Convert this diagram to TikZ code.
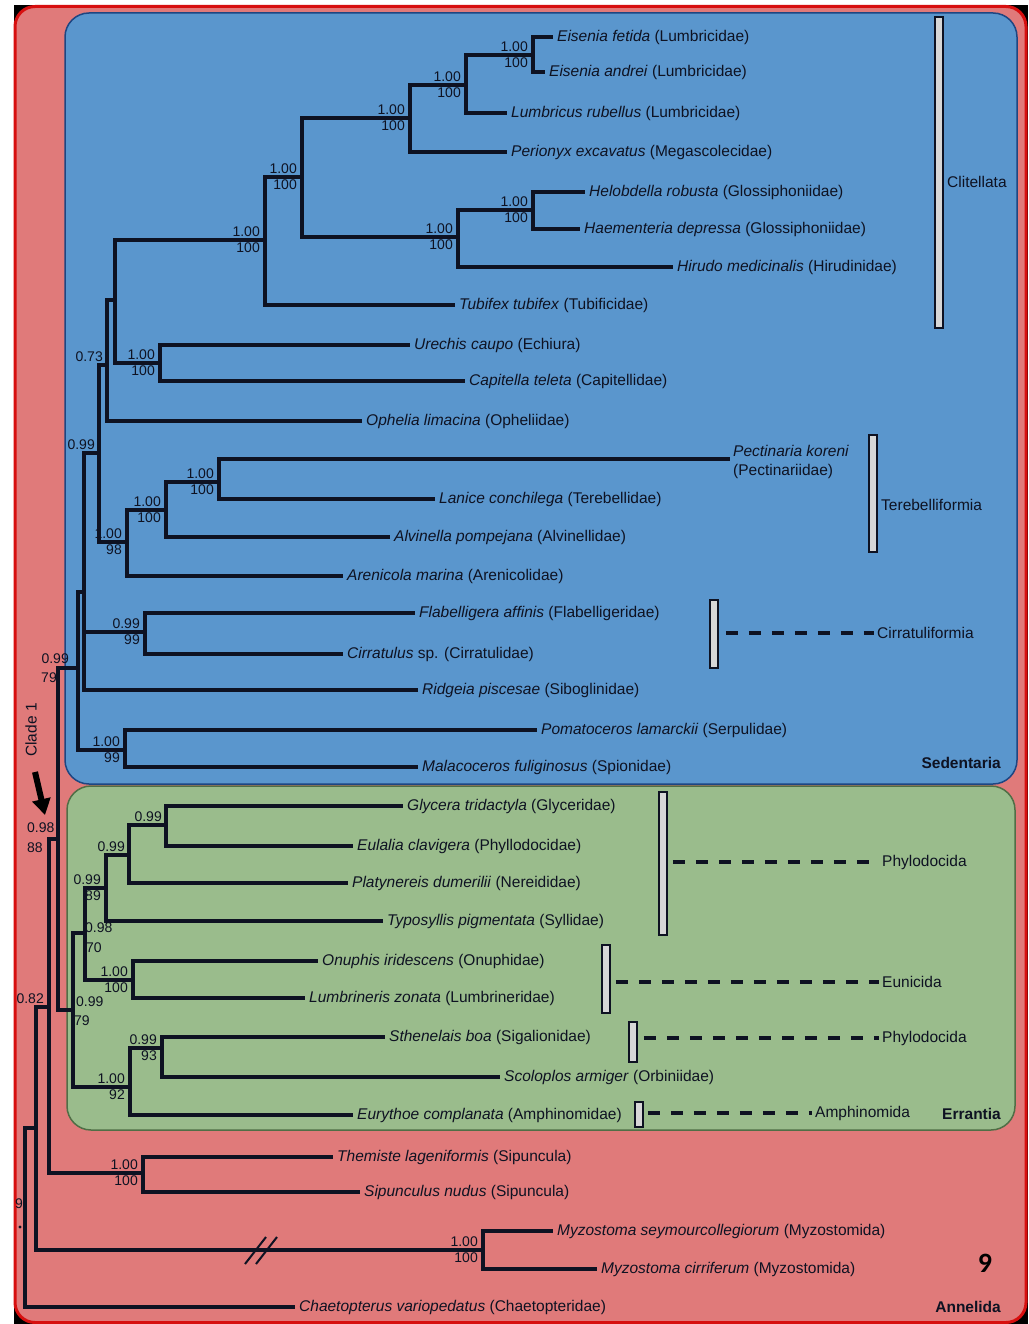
\documentclass[tikz,border=0pt]{standalone}
\usepackage{fontspec}
\setmainfont{Liberation Sans}
\newfontfamily\ninefont{Carlito}
\usetikzlibrary{arrows.meta}
\definecolor{pinkbg}{RGB}{224,122,122}
\definecolor{bluebg}{RGB}{90,150,205}
\definecolor{blueedge}{RGB}{30,70,130}
\definecolor{greenbg}{RGB}{154,188,140}
\definecolor{greenedge}{RGB}{80,110,70}
\definecolor{framered}{RGB}{215,15,15}
\definecolor{ink}{RGB}{14,18,34}
\definecolor{barfill}{RGB}{215,215,215}
\newcommand\taxon[5]{\node[tipl] (#1) at (#2,#3) {\textit{#4} #5};}
\newcommand\bsupp[3]{\path (#1) ++(-5,-3) node[lab,anchor=south east] (#1pp) {#2} ++(0,6) node[lab,anchor=north east] (#1bs) {#3};}
\newcommand\bsupptop[2]{\path (#1) ++(-4,-3) node[lab,anchor=south east] (#1pp) {#2};}
\begin{document}
\begin{tikzpicture}[x=1pt,y=-1pt,
  br/.style={draw=ink,line width=3.4pt,line join=miter},
  tipl/.style={anchor=west,inner xsep=4pt,inner ysep=0pt,text=ink,font=\fontsize{15.5}{17}\selectfont},
  lab/.style={inner sep=0pt,text=ink,font=\fontsize{14}{16}\selectfont},
  grp/.style={anchor=west,inner xsep=3pt,inner ysep=0pt,text=ink,font=\fontsize{15.5}{17}\selectfont},
  reg/.style={anchor=east,inner sep=0pt,text=ink,font=\fontsize{15.5}{17}\selectfont\bfseries},
  barst/.style={draw=ink,fill=barfill,line width=1.8pt,minimum width=8pt,inner sep=0pt},
  dsh/.style={draw=ink,line width=3.2pt,dash pattern=on 12pt off 11pt}]
\useasboundingbox (0,0) rectangle (1028,1324);
\fill[white] (0,0) rectangle (1028,1324);
\fill[black] (14,5) rectangle (1028,1324);
\draw[framered,line width=3pt,fill=pinkbg,rounded corners=20pt] (15,6.5) rectangle (1026,1322.5);
\draw[blueedge,line width=1.5pt,fill=bluebg,rounded corners=24pt] (65,13) rectangle (1017,784);
\draw[greenedge,line width=1.5pt,fill=greenbg,rounded corners=24pt] (67,786) rectangle (1015,1130);

% internal nodes
\coordinate (nRoot) at (25,1218);
\coordinate (nAnn1) at (36,1128);
\coordinate (nAnn2) at (49,1007);
\coordinate (nCl1) at (58,839);
\coordinate (nSed) at (78,668);
\coordinate (nD) at (84,592);
\coordinate (nC) at (99,453);
\coordinate (nB) at (107,365);
\coordinate (nA) at (115,300);
\coordinate (nClit) at (265,240);
\coordinate (nOlig) at (302,177);
\coordinate (nLP) at (410,118);
\coordinate (nLum) at (466,85);
\coordinate (nEis) at (533,55);
\coordinate (nLeech) at (458,237);
\coordinate (nLeechB) at (533,210);
\coordinate (nUC) at (160,363);
\coordinate (nTA) at (127,542);
\coordinate (nTer) at (166,510);
\coordinate (nPec) at (219,482);
\coordinate (nFC) at (145,632);
\coordinate (nPM) at (125,750);
\coordinate (nErr) at (73,1010);
\coordinate (nPE) at (85,933);
\coordinate (nPhy) at (106,888);
\coordinate (nGEP) at (129,855);
\coordinate (nGE) at (166,825);
\coordinate (nOL) at (133,980);
\coordinate (nSSE) at (130,1087);
\coordinate (nSS) at (162,1048);
\coordinate (nSip) at (143,1173);
\coordinate (nMyz) at (483,1250);
\coordinate (cPk) at (730,459);

% taxa
\taxon{tEfet}{553}{37}{Eisenia fetida}{(Lumbricidae)}
\taxon{tEand}{545}{72}{Eisenia andrei}{(Lumbricidae)}
\taxon{tLrub}{507}{113}{Lumbricus rubellus}{(Lumbricidae)}
\taxon{tPexc}{507}{152}{Perionyx excavatus}{(Megascolecidae)}
\taxon{tHrob}{585}{192}{Helobdella robusta}{(Glossiphoniidae)}
\taxon{tHdep}{580}{229}{Haementeria depressa}{(Glossiphoniidae)}
\taxon{tHmed}{673}{267}{Hirudo medicinalis}{(Hirudinidae)}
\taxon{tTtub}{455}{305}{Tubifex tubifex}{(Tubificidae)}
\taxon{tUcau}{410}{345}{Urechis caupo}{(Echiura)}
\taxon{tCtel}{465}{381}{Capitella teleta}{(Capitellidae)}
\taxon{tOlim}{362}{421}{Ophelia limacina}{(Opheliidae)}
\node[anchor=north west,inner sep=0pt,align=left,text=ink,font=\fontsize{15.5}{19}\selectfont] (tPkor) at (733,445) {\textit{Pectinaria koreni}\\(Pectinariidae)};
\taxon{tLcon}{435}{499}{Lanice conchilega}{(Terebellidae)}
\taxon{tApom}{390}{537}{Alvinella pompejana}{(Alvinellidae)}
\taxon{tAmar}{343}{576}{Arenicola marina}{(Arenicolidae)}
\taxon{tFaff}{415}{613}{Flabelligera affinis}{(Flabelligeridae)}
\node[tipl] (tCsp) at (343,654) {\textit{Cirratulus} sp. (Cirratulidae)};
\taxon{tRpis}{418}{690}{Ridgeia piscesae}{(Siboglinidae)}
\taxon{tPlam}{537}{730}{Pomatoceros lamarckii}{(Serpulidae)}
\taxon{tMful}{418}{767}{Malacoceros fuliginosus}{(Spionidae)}
\taxon{tGtri}{403}{806}{Glycera tridactyla}{(Glyceridae)}
\taxon{tEcla}{353}{846}{Eulalia clavigera}{(Phyllodocidae)}
\taxon{tPdum}{348}{883}{Platynereis dumerilii}{(Nereididae)}
\taxon{tTpig}{383}{921}{Typosyllis pigmentata}{(Syllidae)}
\taxon{tOiri}{318}{961}{Onuphis iridescens}{(Onuphidae)}
\taxon{tLzon}{305}{998}{Lumbrineris zonata}{(Lumbrineridae)}
\taxon{tSboa}{385}{1037}{Sthenelais boa}{(Sigalionidae)}
\taxon{tSarm}{500}{1077}{Scoloplos armiger}{(Orbiniidae)}
\taxon{tEcom}{353}{1115}{Eurythoe complanata}{(Amphinomidae)}
\taxon{tTlag}{333}{1157}{Themiste lageniformis}{(Sipuncula)}
\taxon{tSnud}{360}{1192}{Sipunculus nudus}{(Sipuncula)}
\taxon{tMsey}{553}{1231}{Myzostoma seymourcollegiorum}{(Myzostomida)}
\taxon{tMcir}{597}{1269}{Myzostoma cirriferum}{(Myzostomida)}
\taxon{tCvar}{295}{1307}{Chaetopterus variopedatus}{(Chaetopteridae)}

% branches
\draw[br] (nRoot) |- (nAnn1);   \draw[br] (nRoot) |- (tCvar.west);
\draw[br] (nAnn1) |- (nAnn2);   \draw[br] (nAnn1) |- (nMyz);
\draw[br] (nAnn2) |- (nCl1);    \draw[br] (nAnn2) |- (nSip);
\draw[br] (nCl1) |- (nSed);     \draw[br] (nCl1) |- (nErr);
\draw[br] (nSed) |- (nD);       \draw[br] (nSed) |- (nPM);
\draw[br] (nD) |- (nC);         \draw[br] (nD) |- (nFC);  \draw[br] (nD) |- (tRpis.west);
\draw[br] (nC) |- (nB);         \draw[br] (nC) |- (nTA);
\draw[br] (nB) |- (nA);         \draw[br] (nB) |- (tOlim.west);
\draw[br] (nA) |- (nClit);      \draw[br] (nA) |- (nUC);
\draw[br] (nClit) |- (nOlig);   \draw[br] (nClit) |- (tTtub.west);
\draw[br] (nOlig) |- (nLP);     \draw[br] (nOlig) |- (nLeech);
\draw[br] (nLP) |- (nLum);      \draw[br] (nLP) |- (tPexc.west);
\draw[br] (nLum) |- (nEis);     \draw[br] (nLum) |- (tLrub.west);
\draw[br] (nEis) |- (tEfet.west); \draw[br] (nEis) |- (tEand.west);
\draw[br] (nLeech) |- (nLeechB); \draw[br] (nLeech) |- (tHmed.west);
\draw[br] (nLeechB) |- (tHrob.west); \draw[br] (nLeechB) |- (tHdep.west);
\draw[br] (nUC) |- (tUcau.west); \draw[br] (nUC) |- (tCtel.west);
\draw[br] (nTA) |- (nTer);      \draw[br] (nTA) |- (tAmar.west);
\draw[br] (nTer) |- (nPec);     \draw[br] (nTer) |- (tApom.west);
\draw[br] (nPec) |- (cPk);      \draw[br] (nPec) |- (tLcon.west);
\draw[br] (nFC) |- (tFaff.west); \draw[br] (nFC) |- (tCsp.west);
\draw[br] (nPM) |- (tPlam.west); \draw[br] (nPM) |- (tMful.west);
\draw[br] (nErr) |- (nPE);      \draw[br] (nErr) |- (nSSE);
\draw[br] (nPE) |- (nPhy);      \draw[br] (nPE) |- (nOL);
\draw[br] (nPhy) |- (nGEP);     \draw[br] (nPhy) |- (tTpig.west);
\draw[br] (nGEP) |- (nGE);      \draw[br] (nGEP) |- (tPdum.west);
\draw[br] (nGE) |- (tGtri.west); \draw[br] (nGE) |- (tEcla.west);
\draw[br] (nOL) |- (tOiri.west); \draw[br] (nOL) |- (tLzon.west);
\draw[br] (nSSE) |- (nSS);      \draw[br] (nSSE) |- (tEcom.west);
\draw[br] (nSS) |- (tSboa.west); \draw[br] (nSS) |- (tSarm.west);
\draw[br] (nSip) |- (tTlag.west); \draw[br] (nSip) |- (tSnud.west);
\draw[br] (nMyz) |- (tMsey.west); \draw[br] (nMyz) |- (tMcir.west);

% break mark
\draw[ink,line width=2pt] (245,1264) -- (266,1237);
\draw[ink,line width=2pt] (256,1264) -- (277,1237);

% support values
\bsupp{nEis}{1.00}{100}
\bsupp{nLum}{1.00}{100}
\bsupp{nLP}{1.00}{100}
\bsupp{nOlig}{1.00}{100}
\bsupp{nClit}{1.00}{100}
\bsupp{nLeech}{1.00}{100}
\bsupp{nLeechB}{1.00}{100}
\bsupp{nUC}{1.00}{100}
\bsupptop{nB}{0.73}
\bsupptop{nC}{0.99}
\bsupp{nPec}{1.00}{100}
\bsupp{nTer}{1.00}{100}
\bsupp{nTA}{1.00}{98}
\bsupp{nFC}{0.99}{99}
\bsupp{nPM}{1.00}{99}
\bsupptop{nGE}{0.99}
\bsupptop{nGEP}{0.99}
\bsupp{nPhy}{0.99}{89}
\bsupp{nOL}{1.00}{100}
\bsupp{nSS}{0.99}{93}
\bsupp{nSSE}{1.00}{92}
\bsupp{nSip}{1.00}{100}
\bsupp{nMyz}{1.00}{100}
\node[lab,anchor=south east] (nSedpp) at (69,664) {0.99};
\node[lab,anchor=north east] (nSedbs) at (57,673) {79};
\node[lab,anchor=south west] (nCl1pp) at (27,833) {0.98};
\node[lab,anchor=north west] (nCl1bs) at (27,843) {88};
\node[lab,anchor=west] (nErrpp) at (76,1002) {0.99};
\node[lab,anchor=west] (nErrbs) at (74,1021) {79};
\node[lab,anchor=west] (nPEpp) at (85,928) {0.98};
\node[lab,anchor=west] (nPEbs) at (86,948) {70};
\node[lab,anchor=south east] (nAnn2pp) at (44,1004) {0.82};
\node[lab] (nRootpp) at (19,1204) {9};
\fill[ink] (20,1227) circle (1.6pt);

% group bars and labels
\node[barst,minimum height=311pt] (bClit) at (939,172.5) {};
\node[grp] (gClit) at (944,182) {Clitellata};
\node[barst,minimum height=117pt] (bTer) at (873,493.5) {};
\node[grp] (gTer) at (878,505) {Terebelliformia};
\node[barst,minimum height=68pt] (bCir) at (714,634) {};
\node[grp] (gCir) at (874,633) {Cirratuliformia};
\draw[dsh] ([xshift=7pt]bCir.east |- gCir.west) -- (gCir.west);
\node[barst,minimum height=143pt] (bPhy) at (663,863.5) {};
\node[grp] (gPhy) at (879,862) {Phylodocida};
\draw[dsh] ([xshift=5pt]bPhy.east |- gPhy.west) -- (gPhy.west);
\node[barst,minimum height=68pt] (bEun) at (606,979) {};
\node[grp] (gEun) at (879,982) {Eunicida};
\draw[dsh] ([xshift=5pt]bEun.east |- gEun.west) -- (gEun.west);
\node[barst,minimum height=40pt] (bPhyB) at (633,1042) {};
\node[grp] (gPhyB) at (879,1038) {Phylodocida};
\draw[dsh] ([xshift=6pt]bPhyB.east |- gPhyB.west) -- (gPhyB.west);
\node[barst,minimum height=25pt] (bAmp) at (639,1114.5) {};
\node[grp] (gAmp) at (812,1113) {Amphinomida};
\draw[dsh] ([xshift=4pt]bAmp.east |- gAmp.west) -- (gAmp.west);

% region labels
\node[reg] (rSed) at (1001,763) {Sedentaria};
\node[reg] (rErr) at (1001,1114) {Errantia};
\node[reg] (rAnn) at (1001,1307) {Annelida};
\node[inner sep=0pt,font=\ninefont\fontsize{28}{30}\selectfont\bfseries] (pnum) at (985,1263) {9};

% clade 1
\node[rotate=90,inner sep=0pt,text=ink,font=\fontsize{15.5}{17}\selectfont] (clade) at (31,730) {Clade 1};
\coordinate (arA) at (35,772);
\coordinate (arB) at (45,815);
\draw[black,line width=6pt,-{Triangle[length=16pt,width=18pt]}] (arA) -- (arB);
\end{tikzpicture}
\end{document}
